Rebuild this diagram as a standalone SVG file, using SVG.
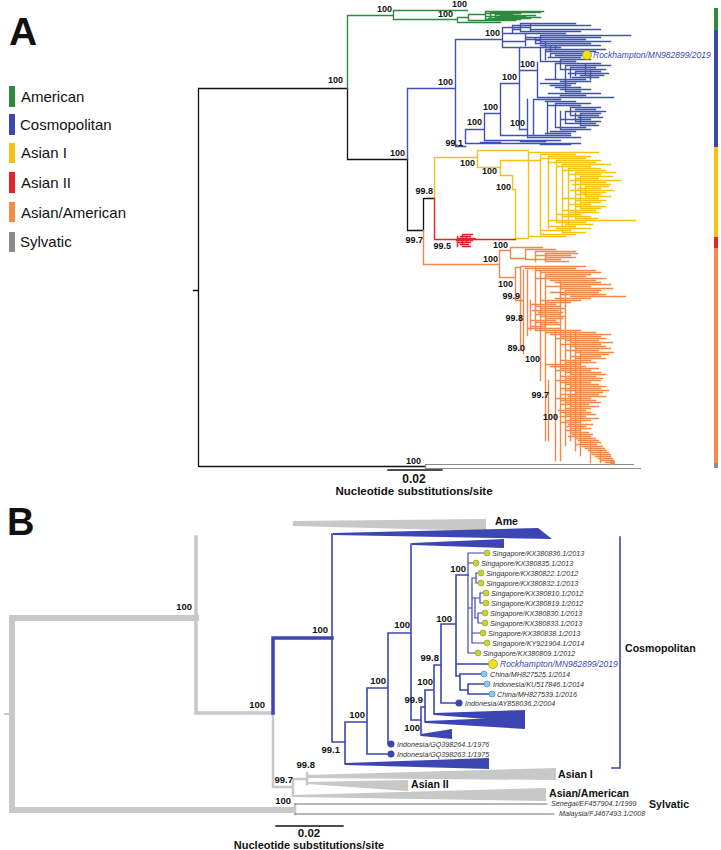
<svg xmlns="http://www.w3.org/2000/svg" width="721" height="850" viewBox="0 0 721 850">
<style>
text{font-family:'Liberation Sans',Arial,sans-serif;}
.bs{font-size:9px;font-weight:bold;fill:#111;text-anchor:end;}
.bsb{font-size:9.5px;font-weight:bold;fill:#111;text-anchor:end;}
.leg{font-size:15px;fill:#111;}
.clab{font-size:10.6px;font-weight:bold;fill:#111;}
.tip{font-size:7.2px;font-style:italic;fill:#333;}
.rock{font-size:8.5px;font-style:italic;fill:#3c48b0;}
.sc1{font-size:12px;font-weight:bold;fill:#111;text-anchor:middle;}
.sc2{font-size:11.5px;font-weight:bold;fill:#111;text-anchor:middle;}
.ln{fill:none;stroke-linecap:square;}
.k{stroke:#111;stroke-width:1.3;}
.g{stroke:#2e8b3e;stroke-width:1.4;}
.b{stroke:#4251b8;stroke-width:1.4;}
.y{stroke:#f5c211;stroke-width:1.4;}
.r{stroke:#e3242b;stroke-width:1.4;}
.o{stroke:#f4874a;stroke-width:1.4;}
.gy{stroke:#8c8c8c;stroke-width:1.2;}
.lg{stroke:#c8c8c8;}
.bb{stroke:#3c45b2;}
.tri{fill:#c8c8c8;}
.btri{fill:#3c45b2;}
.sg{fill:#c5d434;stroke:#8a9a22;stroke-width:0.6;}
.lb{fill:#8ecbea;stroke:#3a7bbf;stroke-width:0.6;}
.db{fill:#3c45b2;}
</style>

<!-- Panel A -->
<text x="9" y="45" style="font-size:39px;font-weight:bold;fill:#111">A</text>
<g id="legend">
<rect x="9" y="86" width="6" height="21" fill="#2e8b3e"/><text class="leg" x="21" y="102">American</text>
<rect x="9" y="114" width="6" height="21" fill="#3c48a8"/><text class="leg" x="20" y="130">Cosmopolitan</text>
<rect x="9" y="143" width="6" height="20" fill="#f5c211"/><text class="leg" x="21" y="158">Asian I</text>
<rect x="9" y="172" width="6" height="21" fill="#e3242b"/><text class="leg" x="21" y="188">Asian II</text>
<rect x="9" y="202" width="6" height="20" fill="#f28a4a"/><text class="leg" x="21" y="218">Asian/American</text>
<rect x="9" y="232" width="6" height="20" fill="#8c8c8c"/><text class="leg" x="20" y="247">Sylvatic</text>
</g>

<g id="colorbar">
<rect x="714" y="8" width="4" height="22" fill="#2e8b3e"/>
<rect x="714" y="30" width="4" height="117" fill="#3c48a8"/>
<rect x="714" y="147" width="4" height="90" fill="#f5c211"/>
<rect x="714" y="237" width="4" height="11" fill="#e3242b"/>
<rect x="714" y="248" width="4" height="215" fill="#f28a4a"/>
<rect x="714" y="463" width="4" height="5" fill="#8c8c8c"/>
</g>

<g id="connectorsA" transform="translate(0.5,0.5)">
<path class="ln k" d="M193,290 H198 M198,88 V466 M198,88 H347 M347,88 V159 H407 V230 H423 V198 H434 M198,466 H425"/>
<path class="ln gy" d="M425,464 V468 M425,464 H633 M425,468 H640"/>
<path class="ln g" d="M347,88 V15 H393 M393,10 V19 M393,10 H467 M393,19 H457 M457,17 V22 M457,17 H468 M457,22 H500 M468,14 V20 M468,14 H485 M468,20 H500 M485,11 V19 M490,12 V18 M495,14 V17 M500,15 V20
M485,11 H543 M490,12 H540 M485,13 H520 M495,14 H512 M500,15 H535 M485,16 H525 M495,17 H540 M488,18 H530 M485,19 H520 M500,20 H515"/>
<path class="ln b" d="M407,159 V88 H455 M455,39 V146 M455,39 H502 M502,27 V47 M502,27 H530 M530,24 V30 M502,33 H512 M512,25 V33 M512,29 H520 M520,23 V31 M502,41 H525 M525,33 V45 M525,39 H535 M535,37 V43 M535,40 H540 M540,35 V43 M540,45 H545 M545,41 V47 M550,45 V51 M555,45 V49
M520,23 H575 M512,25 H590 M530,29 H600 M520,31 H580 M512,33 H565 M540,35 H630 M525,37 H600 M535,39 H585 M540,41 H610 M535,43 H590 M545,45 H600 M502,47 H560
M500,83 H519 M519,47 V129 M519,47 H540 M519,70 H537 M519,129 H527
M540,47 V61 M545,49 V59 M550,53 V57 M537,62 V97 M555,63 V79 M560,59 V69 M565,65 V91 M570,67 V77 M575,71 V75 M527,99 V137 M533,99 V135 M547,101 V133 M555,103 V127 M560,111 V129 M565,111 V123 M570,107 V115 M575,113 V121 M580,113 V125 M585,63 V75 M590,69 V79
M545,49 H605 M545,51 H595 M550,53 H585 M555,55 H587 M548,57 H580 M560,59 H590 M540,61 H575 M555,63 H600 M565,65 H610 M570,67 H595 M560,69 H605 M575,71 H600 M568,73 H608 M580,75 H603 M572,77 H598 M545,79 H585 M560,81 H590 M540,83 H575 M550,85 H570 M555,87 H580 M560,89 H590 M565,91 H580 M548,93 H600 M560,95 H585 M537,97 H613 M533,99 H560 M545,101 H575 M555,103 H590 M547,105 H580 M570,107 H600 M575,109 H595 M565,111 H605 M580,113 H600 M570,115 H598 M578,117 H602 M560,119 H590 M575,121 H600 M565,123 H595 M580,125 H598 M555,127 H585 M560,129 H590 M550,131 H575 M545,133 H570 M540,135 H560 M527,137 H580
M455,146 H465 M465,129 V143 M465,129 H484 M484,113 V140 M484,113 H500 M500,83 V135 M500,135 H570 M484,140 H560 M465,143 H580 M480,142 H500 M520,141 H545 M540,144 H570"/>
<path class="ln y" d="M434,198 V157 H477 M477,150 V167 M477,150 H528 M477,167 H500 M500,160 V175 M500,160 H540 M500,175 H512 M512,175 V189 H515 M515,189 V238 M515,238 H528
M528,152 V237 M540,154 V234 M548,156 V228 M556,160 V222 M562,164 V232 M568,168 V224 M575,172 V218 M580,176 V208 M585,186 V196
M528,152 H598 M540,154 H575 M548,156 H590 M540,158 H585 M556,160 H600 M548,162 H595 M562,164 H610 M556,166 H590 M568,168 H600 M562,170 H605 M575,172 H615 M568,174 H600 M580,176 H612 M575,178 H598 M570,180 H620 M580,182 H605 M572,184 H610 M585,186 H608 M578,188 H600 M570,190 H613 M580,192 H605 M575,194 H600 M585,196 H610 M562,198 H598 M575,200 H605 M580,202 H600 M568,204 H590 M575,206 H605 M580,208 H600 M562,210 H595 M570,212 H598 M556,214 H580 M562,216 H590 M575,218 H597 M548,220 H635 M556,222 H585 M565,224 H592 M548,226 H575 M556,228 H590 M540,230 H570 M562,232 H585 M540,234 H575 M528,236 H565"/>
<path class="ln r" d="M434,198 V239 H515 M457,236 V246 M462,234 V244 M466,236 V242 M457,238 H475 M456,240 H472 M458,242 H470 M460,244 H468 M462,246 H470 M460,236 H470 M462,234 H472"/>
<path class="ln o" d="M423,230 V264 H499 M499,250 V277 M499,250 H510 M510,247 V258 M499,277 H515 M515,267 V300
M510,247 H542 M525,249 V259 M525,249 H555 M535,251 V261 M535,251 H575 M545,253 V261 M545,253 H577 M535,255 H570 M545,257 H575 M525,259 H560 M545,261 H568 M510,258 H525
M515,267 H520 M520,266 V350 M515,300 H523 M523,270 V353 M527,270 V335 M530,300 V330 M535,266 V330 M540,270 V380 M545,274 V440 M548,380 V440 M555,330 V460 M560,280 V460 M565,290 V445 M570,330 V440 M575,330 V450 M580,350 V455 M590,440 V462 M600,450 V462
M520,266 H585 M525,268 H575 M535,270 H595 M540,272 H600 M545,274 H590 M545,276 H585 M535,278 H605 M550,280 H595 M555,282 H600 M560,284 H610 M545,286 H590 M560,288 H612 M565,290 H600 M550,292 H598 M560,294 H605 M570,296 H625 M555,298 H590 M540,300 H580 M545,302 H570 M530,304 H555 M535,306 H560 M540,308 H565 M532,310 H558 M538,312 H562 M535,314 H560 M540,316 H565 M545,318 H562 M530,320 H555 M535,322 H558 M540,324 H560 M530,326 H545 M528,328 H560 M535,330 H580 M545,332 H595 M550,334 H610 M560,336 H600 M555,338 H605 M565,340 H598 M570,342 H612 M560,344 H600 M570,346 H605 M575,348 H610 M565,350 H598 M575,352 H613 M580,354 H608 M570,356 H600 M575,358 H605 M560,360 H590 M565,362 H595 M545,364 H580 M550,366 H585 M560,368 H598 M555,370 H590 M565,372 H600 M570,374 H605 M560,376 H595 M565,378 H602 M555,380 H600 M560,382 H590 M565,384 H598 M570,386 H605 M560,388 H600 M565,390 H608 M575,392 H602 M560,394 H598 M568,396 H605 M555,398 H590 M560,400 H595 M565,402 H600 M560,404 H588 M570,406 H598 M565,408 H590 M558,410 H585 M560,412 H590 M565,414 H595 M560,416 H585 M570,418 H598 M565,420 H590 M560,422 H580 M568,424 H592 M565,426 H585 M570,428 H590 M565,430 H580 M570,432 H588 M572,434 H592 M568,436 H590 M575,438 H595 M578,440 H598 M580,442 H600 M575,444 H596 M582,446 H602 M585,448 H604 M588,450 H606 M590,452 H608 M592,454 H610 M595,456 H610 M598,458 H612 M600,460 H613 M605,462 H613"/>
<circle cx="612" cy="462" r="2.5" fill="#f4874a"/>
</g>

<g id="rockA">
<circle cx="587" cy="55" r="4.5" fill="#f0e020" stroke="#9a9a20" stroke-width="0.7"/>
<text class="rock" x="593" y="58">Rockhampton/MN982899/2019</text>
</g>

<g id="labelsA">
<text class="bs" x="343" y="83">100</text>
<text class="bs" x="392" y="12">100</text>
<text class="bs" x="453" y="17">100</text>
<text class="bs" x="467" y="7">100</text>
<text class="bs" x="453" y="85">100</text>
<text class="bs" x="500" y="36">100</text>
<text class="bs" x="535" y="67">100</text>
<text class="bs" x="517" y="80">100</text>
<text class="bs" x="498" y="110">100</text>
<text class="bs" x="482" y="125">100</text>
<text class="bs" x="525" y="126">100</text>
<text class="bs" x="463" y="146">99.1</text>
<text class="bs" x="405" y="156">100</text>
<text class="bs" x="433" y="194">99.8</text>
<text class="bs" x="423" y="243">99.7</text>
<text class="bs" x="451" y="249">99.5</text>
<text class="bs" x="475" y="166">100</text>
<text class="bs" x="497" y="174">100</text>
<text class="bs" x="511" y="190">100</text>
<text class="bs" x="508" y="248">100</text>
<text class="bs" x="498" y="262">100</text>
<text class="bs" x="513" y="287">100</text>
<text class="bs" x="520" y="299">99.9</text>
<text class="bs" x="523" y="321">99.8</text>
<text class="bs" x="525" y="351">89.0</text>
<text class="bs" x="540" y="362">100</text>
<text class="bs" x="549" y="398">99.7</text>
<text class="bs" x="558" y="420">100</text>
<text class="bs" x="421" y="464">100</text>
</g>

<g id="scaleA">
<path class="ln k" stroke-width="2" d="M388,470 H442"/>
<text class="sc1" x="414" y="483">0.02</text>
<text class="sc2" x="414" y="495">Nucleotide substitutions/site</text>
</g>

<!-- Panel B -->
<text x="7" y="535" style="font-size:38px;font-weight:bold;fill:#111">B</text>

<g id="collapsedB">
<polygon class="tri" points="293,521 486,519 486,531 293,526"/>
<polygon class="tri" points="307,775 556,768 556,780 307,778"/>
<polygon class="tri" points="307,782 408,780 408,791 307,784"/>
<polygon class="tri" points="293,795 546,788 546,801 293,797"/>
<polygon class="btri" points="333,533 538,528 552,539 333,535"/>
<polygon class="btri" points="412,543 504,539 504,548 412,545"/>
<polygon class="btri" points="345,763 489,758 489,769 345,765"/>
<polygon class="btri" points="434,713 525,710 525,722 434,715"/>
<polygon class="btri" points="425,721 525,717 525,729 425,723"/>
<polygon class="btri" points="421,734 452,729 452,739 421,736"/>
</g>

<g id="connectorsB">
<path class="ln lg" stroke-width="6" d="M12,618 V810 M12,618 H196 M12,810 H292"/>
<path class="ln lg" stroke-width="2" d="M5,714 H12"/>
<path class="ln lg" stroke-width="3.5" d="M196,537 V713 H273"/>
<path class="ln lg" stroke-width="2.5" d="M273,713 V787 H293 M293,779 V796 M293,779 H307 M307,773 V784 M295,804 V814"/>
<path class="ln" stroke="#6e6e6e" stroke-width="1" d="M295,804 H547 M295,814 H554"/>
<path class="ln bb" stroke-width="3.5" d="M273,713 V638 H332"/>
<path class="ln bb" stroke-width="1.6" d="M332,534 V742 H345 M345,722 V764 M345,722 H367 M367,688 V754 M367,688 H388 M367,754 H391 M388,633 V744 M388,744 H391 M388,633 H411 M411,544 V720 H421 M421,707 V735 M421,707 H425 M425,690 V722 M425,690 H434 M434,665 V714 M434,665 H441 M441,624 V703 H459 M441,624 H456 M456,575 V676 M456,575 H468 M456,664 H493 M456,676 H460 M460,674 V690 M460,674 H484 M460,690 H468 M468,684 V694 M468,684 H487 M468,694 H492"/>
<path class="ln bb" stroke-width="1.2" d="M468,553 V653 M468,553 H487 M468,563 H476 M468,608 H472 M472,578 V643 M472,578 H476 M476,573 V583 M476,573 H481 M476,583 H481 M472,598 H475 M475,598 V618 M475,598 H480 M480,593 V603 M480,593 H486 M480,603 H486 M475,618 H478 M478,613 V623 M478,613 H485 M478,623 H485 M472,633 H483 M472,643 H487 M468,653 H478"/>
<path class="ln bb" stroke-width="1.6" d="M620,537 V768 H612"/>
</g>

<g id="tipsB">
<circle class="sg" cx="487" cy="553" r="3"/><text class="tip" x="492" y="556">Singapore/KX380836.1/2013</text>
<circle class="sg" cx="476" cy="563" r="3"/><text class="tip" x="481" y="566">Singapore/KX380835.1/2013</text>
<circle class="sg" cx="481" cy="573" r="3"/><text class="tip" x="486" y="576">Singapore/KX380822.1/2012</text>
<circle class="sg" cx="481" cy="583" r="3"/><text class="tip" x="486" y="586">Singapore/KX380832.1/2013</text>
<circle class="sg" cx="486" cy="593" r="3"/><text class="tip" x="491" y="596">Singapore/KX380810.1/2012</text>
<circle class="sg" cx="486" cy="603" r="3"/><text class="tip" x="491" y="606">Singapore/KX380819.1/2012</text>
<circle class="sg" cx="485" cy="613" r="3"/><text class="tip" x="490" y="616">Singapore/KX380830.1/2013</text>
<circle class="sg" cx="485" cy="623" r="3"/><text class="tip" x="490" y="626">Singapore/KX380833.1/2013</text>
<circle class="sg" cx="483" cy="633" r="3"/><text class="tip" x="488" y="636">Singapore/KX380838.1/2013</text>
<circle class="sg" cx="487" cy="643" r="3"/><text class="tip" x="492" y="646">Singapore/KY921904.1/2014</text>
<circle class="sg" cx="478" cy="653" r="3"/><text class="tip" x="483" y="656">Singapore/KX380809.1/2012</text>
<circle cx="493" cy="664" r="4.5" fill="#f0e020" stroke="#9a9a20" stroke-width="0.7"/><text class="rock" x="500" y="667">Rockhampton/MN982899/2019</text>
<circle class="lb" cx="484" cy="674" r="3"/><text class="tip" x="490" y="677">China/MH827525.1/2014</text>
<circle class="lb" cx="487" cy="684" r="3"/><text class="tip" x="493" y="687">Indonesia/KU517846.1/2014</text>
<circle class="lb" cx="492" cy="694" r="3"/><text class="tip" x="497" y="697">China/MH827539.1/2016</text>
<circle class="db" cx="459" cy="703" r="3.5"/><text class="tip" x="465" y="706">Indonesia/AY858036.2/2004</text>
<circle class="db" cx="391" cy="744" r="3.5"/><text class="tip" x="397" y="747">Indonesia/GQ398264.1/1976</text>
<circle class="db" cx="391" cy="754" r="3.5"/><text class="tip" x="397" y="757">Indonesia/GQ398263.1/1975</text>
<text class="tip" x="551" y="806">Senegal/EF457904.1/1999</text>
<text class="tip" x="559" y="816">Malaysia/FJ467493.1/2008</text>
</g>

<g id="cladesB">
<text class="clab" x="495" y="525">Ame</text>
<text class="clab" x="625" y="652">Cosmopolitan</text>
<text class="clab" x="558" y="778">Asian I</text>
<text class="clab" x="411" y="788">Asian II</text>
<text class="clab" x="549" y="797">Asian/American</text>
<text class="clab" x="649" y="808">Sylvatic</text>
</g>

<g id="labelsB">
<text class="bsb" x="192" y="610">100</text>
<text class="bsb" x="265" y="708">100</text>
<text class="bsb" x="328" y="633">100</text>
<text class="bsb" x="340" y="753">99.1</text>
<text class="bsb" x="365" y="718">100</text>
<text class="bsb" x="386" y="684">100</text>
<text class="bsb" x="410" y="628">100</text>
<text class="bsb" x="423" y="703">99.9</text>
<text class="bsb" x="420" y="731">100</text>
<text class="bsb" x="433" y="685">100</text>
<text class="bsb" x="439" y="661">99.8</text>
<text class="bsb" x="452" y="622">100</text>
<text class="bsb" x="466" y="572">100</text>
<text class="bsb" x="315" y="768">99.8</text>
<text class="bsb" x="293" y="783">99.7</text>
<text class="bsb" x="291" y="804">100</text>
</g>

<g id="scaleB">
<path class="ln k" stroke-width="2.5" d="M276,826 H343"/>
<text class="sc1" x="309" y="837" style="font-size:11.5px">0.02</text>
<text class="sc2" x="309" y="849" style="font-size:11px">Nucleotide substitutions/site</text>
</g>
</svg>
